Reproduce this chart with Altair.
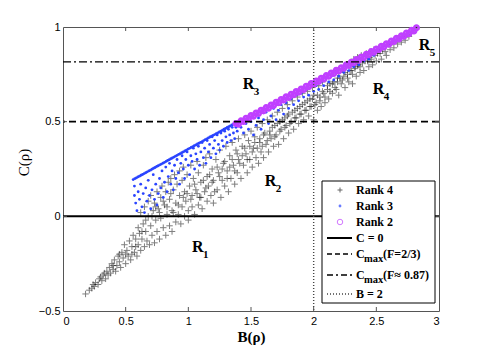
import altair as alt
import pandas as pd

# ---------------- data ----------------
RANK4 = [
    (0.18, -0.41), (0.21, -0.39), (0.23, -0.38), (0.25, -0.37), (0.26, -0.35), (0.28, -0.36), (0.29, -0.33),
    (0.31, -0.34), (0.32, -0.31), (0.34, -0.33), (0.35, -0.29), (0.36, -0.31), (0.37, -0.27), (0.38, -0.30),
    (0.39, -0.25), (0.40, -0.28), (0.41, -0.23), (0.42, -0.29), (0.43, -0.26), (0.44, -0.21), (0.45, -0.24),
    (0.46, -0.27), (0.47, -0.19), (0.48, -0.22), (0.49, -0.15), (0.50, -0.25), (0.51, -0.18), (0.52, -0.21),
    (0.53, -0.13), (0.54, -0.23), (0.55, -0.16), (0.56, -0.10), (0.57, -0.19), (0.58, -0.12), (0.59, -0.21),
    (0.60, -0.06), (0.60, -0.15), (0.61, -0.09), (0.62, -0.18), (0.62, 0.02), (0.63, -0.12), (0.64, -0.04),
    (0.65, -0.16), (0.65, 0.05), (0.66, -0.08), (0.67, -0.13), (0.68, 0.00), (0.68, 0.08), (0.69, -0.15),
    (0.70, -0.05), (0.70, 0.11), (0.71, -0.10), (0.72, 0.03), (0.73, -0.14), (0.73, 0.07), (0.74, -0.02),
    (0.75, -0.08), (0.75, 0.13), (0.76, 0.04), (0.77, -0.12), (0.78, -0.01), (0.78, 0.10), (0.79, 0.16),
    (0.80, -0.06), (0.81, 0.06), (0.82, -0.10), (0.82, 0.13), (0.83, 0.01), (0.84, 0.18), (0.85, -0.05),
    (0.85, 0.09), (0.86, 0.20), (0.87, -0.08), (0.87, 0.03), (0.88, 0.14), (0.89, 0.22), (0.90, -0.03),
    (0.90, 0.07), (0.91, 0.17), (0.92, 0.01), (0.93, 0.24), (0.93, 0.11), (0.94, -0.04), (0.95, 0.05),
    (0.95, 0.19), (0.96, 0.26), (0.97, 0.00), (0.97, 0.13), (0.98, 0.08), (0.99, 0.22), (1.00, -0.02),
    (1.00, 0.03), (1.01, 0.16), (1.02, 0.27), (1.03, 0.05), (1.03, 0.11), (1.04, 0.20), (1.05, 0.01),
    (1.06, 0.14), (1.07, 0.29), (1.08, 0.06), (1.08, 0.23), (1.09, 0.10), (1.10, 0.18), (1.11, 0.04),
    (1.12, 0.27), (1.13, 0.13), (1.14, 0.31), (1.15, 0.08), (1.15, 0.21), (1.16, 0.16), (1.17, 0.33),
    (1.18, 0.11), (1.19, 0.25), (1.20, 0.07), (1.20, 0.19), (1.22, 0.30), (1.23, 0.14), (1.24, 0.23),
    (1.25, 0.35), (1.26, 0.10), (1.27, 0.19), (1.28, 0.28), (1.29, 0.16), (1.30, 0.37), (1.31, 0.24),
    (1.32, 0.13), (1.33, 0.32), (1.34, 0.20), (1.35, 0.39), (1.36, 0.27), (1.37, 0.17), (1.38, 0.35),
    (1.39, 0.23), (1.40, 0.41), (1.40, 0.30), (1.42, 0.20), (1.43, 0.37), (1.44, 0.27), (1.45, 0.43),
    (1.46, 0.33), (1.47, 0.23), (1.48, 0.40), (1.49, 0.30), (1.50, 0.45), (1.51, 0.26), (1.52, 0.36),
    (1.53, 0.42), (1.54, 0.31), (1.55, 0.47), (1.56, 0.28), (1.57, 0.39), (1.58, 0.34), (1.59, 0.49),
    (1.60, 0.43), (1.60, 0.31), (1.62, 0.38), (1.63, 0.51), (1.64, 0.34), (1.65, 0.45), (1.66, 0.41),
    (1.67, 0.53), (1.68, 0.37), (1.69, 0.48), (1.70, 0.43), (1.71, 0.55), (1.72, 0.38), (1.73, 0.50),
    (1.74, 0.46), (1.75, 0.57), (1.76, 0.41), (1.77, 0.52), (1.78, 0.48), (1.79, 0.59), (1.80, 0.44),
    (1.80, 0.54), (1.82, 0.50), (1.83, 0.61), (1.84, 0.46), (1.85, 0.56), (1.86, 0.52), (1.87, 0.63),
    (1.88, 0.49), (1.89, 0.58), (1.90, 0.54), (1.91, 0.65), (1.92, 0.51), (1.93, 0.60), (1.94, 0.56),
    (1.95, 0.66), (1.96, 0.53), (1.97, 0.62), (1.98, 0.58), (1.99, 0.68), (2.00, 0.51), (2.00, 0.64),
    (2.02, 0.60), (2.03, 0.56), (2.04, 0.69), (2.05, 0.63), (2.06, 0.58), (2.07, 0.71), (2.08, 0.65),
    (2.09, 0.60), (2.10, 0.73), (2.11, 0.67), (2.12, 0.62), (2.13, 0.70), (2.14, 0.75), (2.15, 0.65),
    (2.16, 0.71), (2.17, 0.77), (2.18, 0.67), (2.19, 0.73), (2.20, 0.64), (2.20, 0.76), (2.22, 0.70),
    (2.23, 0.78), (2.24, 0.74), (2.25, 0.68), (2.26, 0.80), (2.27, 0.75), (2.28, 0.71), (2.29, 0.81),
    (2.30, 0.77), (2.31, 0.70), (2.32, 0.83), (2.33, 0.79), (2.34, 0.74), (2.35, 0.84), (2.36, 0.80),
    (2.37, 0.76), (2.38, 0.85), (2.39, 0.81), (2.40, 0.77), (2.42, 0.86), (2.43, 0.82), (2.44, 0.79),
    (2.45, 0.87), (2.46, 0.83), (2.47, 0.80), (2.48, 0.88), (2.49, 0.85), (2.50, 0.82), (2.52, 0.89),
    (2.53, 0.86), (2.54, 0.83), (2.56, 0.90), (2.57, 0.87), (2.58, 0.85), (2.60, 0.91), (2.61, 0.88),
    (2.63, 0.92), (2.64, 0.89), (2.66, 0.93), (2.67, 0.91), (2.69, 0.94), (2.70, 0.92), (2.72, 0.95),
    (2.73, 0.93), (2.75, 0.96), (2.76, 0.95), (2.78, 0.97), (2.80, 0.98), (2.82, 0.99),
    # denser middle of the band
    (0.24, -0.36), (0.30, -0.32), (0.33, -0.30), (0.40, -0.26), (0.45, -0.20), (0.50, -0.20),
    (0.55, -0.20), (0.58, -0.16), (0.63, -0.08), (0.66, -0.02), (0.71, 0.00), (0.74, 0.05),
    (0.77, 0.02), (0.80, 0.08), (0.83, 0.05), (0.86, 0.12), (0.88, 0.02),
    (0.92, 0.06), (0.96, 0.10), (0.99, 0.12), (1.02, 0.09), (1.05, 0.17), (1.07, 0.12), (1.10, 0.10),
    (1.12, 0.19), (1.14, 0.15), (1.17, 0.22), (1.19, 0.18), (1.21, 0.13), (1.23, 0.26), (1.25, 0.21),
    (1.27, 0.25), (1.29, 0.29), (1.31, 0.20), (1.33, 0.26), (1.35, 0.30), (1.37, 0.24), (1.39, 0.33),
    (1.41, 0.28), (1.43, 0.32), (1.45, 0.36), (1.47, 0.30), (1.49, 0.37), (1.51, 0.34), (1.53, 0.39),
    (1.55, 0.36), (1.57, 0.41), (1.59, 0.37), (1.61, 0.44), (1.63, 0.40), (1.65, 0.43), (1.67, 0.47),
    (1.69, 0.42), (1.71, 0.49), (1.73, 0.45), (1.75, 0.51), (1.77, 0.47), (1.79, 0.53), (1.81, 0.49),
    (1.83, 0.55), (1.85, 0.52), (1.87, 0.57), (1.89, 0.54), (1.91, 0.59), (1.93, 0.56), (1.95, 0.61),
    (1.97, 0.58), (1.99, 0.62), (2.01, 0.59), (2.03, 0.64), (2.05, 0.61), (2.07, 0.66), (2.09, 0.63),
    (2.11, 0.69), (2.13, 0.66), (2.15, 0.70), (2.17, 0.68), (2.19, 0.71), (2.21, 0.73), (2.23, 0.72),
    (2.25, 0.76), (2.27, 0.73), (2.29, 0.77), (2.31, 0.75), (2.33, 0.78), (2.35, 0.80), (2.37, 0.79),
    (2.41, 0.82), (2.45, 0.84), (2.51, 0.86), (2.55, 0.88),
]

RANK3 = [
    # dense upper edge
    (0.56, 0.194), (0.585, 0.203), (0.61, 0.212), (0.635, 0.221), (0.66, 0.230), (0.685, 0.240),
    (0.71, 0.249), (0.735, 0.258), (0.76, 0.267), (0.785, 0.276), (0.81, 0.285), (0.835, 0.295),
    (0.86, 0.304), (0.885, 0.313), (0.91, 0.322), (0.935, 0.331), (0.96, 0.340), (0.985, 0.350),
    (1.01, 0.359), (1.035, 0.368), (1.06, 0.377), (1.085, 0.386), (1.11, 0.395), (1.135, 0.405),
    (1.16, 0.414), (1.185, 0.423), (1.21, 0.432), (1.235, 0.441), (1.26, 0.450), (1.285, 0.460),
    (1.31, 0.469), (1.335, 0.478), (1.36, 0.487), (1.385, 0.496),
    (0.5725, 0.199), (0.5975, 0.208), (0.6225, 0.217), (0.6475, 0.226), (0.6725, 0.235),
    (0.6975, 0.244), (0.7225, 0.254), (0.7475, 0.263), (0.7725, 0.272), (0.7975, 0.281),
    (0.8225, 0.290), (0.8475, 0.299), (0.8725, 0.308), (0.8975, 0.318), (0.9225, 0.327),
    (0.9475, 0.336), (0.9725, 0.345), (0.9975, 0.355), (1.0225, 0.364), (1.0475, 0.373),
    (1.0725, 0.382), (1.0975, 0.391), (1.1225, 0.400), (1.1475, 0.409), (1.1725, 0.419),
    (1.1975, 0.428), (1.2225, 0.437), (1.2475, 0.446), (1.2725, 0.455), (1.2975, 0.464),
    (1.3225, 0.473), (1.3475, 0.483), (1.3725, 0.492),
    # scattered, left part
    (0.57, 0.16), (0.57, 0.11), (0.58, 0.07), (0.59, 0.03), (0.60, 0.13), (0.61, 0.09), (0.62, 0.17),
    (0.63, 0.05), (0.64, 0.12), (0.65, 0.02), (0.66, 0.15), (0.67, 0.08), (0.68, 0.19), (0.69, 0.11),
    (0.70, 0.04), (0.71, 0.14), (0.72, 0.22), (0.73, 0.09), (0.74, 0.17), (0.75, 0.06), (0.76, 0.12),
    (0.77, 0.20), (0.78, 0.15), (0.79, 0.24), (0.80, 0.10), (0.81, 0.18), (0.82, 0.26), (0.83, 0.13),
    (0.84, 0.21), (0.85, 0.28), (0.86, 0.17), (0.87, 0.24), (0.88, 0.14), (0.89, 0.27), (0.90, 0.20),
    (0.91, 0.30), (0.92, 0.23), (0.93, 0.17), (0.94, 0.28), (0.95, 0.32), (0.96, 0.25), (0.97, 0.20),
    (0.98, 0.30), (0.99, 0.34), (1.00, 0.27), (1.01, 0.22), (1.02, 0.32), (1.03, 0.29), (1.04, 0.36),
    (1.05, 0.25), (1.06, 0.33), (1.07, 0.30), (1.08, 0.37), (1.09, 0.27), (1.10, 0.34), (1.11, 0.39),
    (1.12, 0.31), (1.13, 0.36), (1.14, 0.28), (1.15, 0.40), (1.16, 0.34), (1.17, 0.38), (1.18, 0.31),
    (1.19, 0.42), (1.20, 0.36), (1.21, 0.40), (1.22, 0.33), (1.23, 0.43), (1.24, 0.38), (1.25, 0.35),
    (1.26, 0.44), (1.27, 0.40), (1.28, 0.37), (1.29, 0.45), (1.30, 0.42), (1.31, 0.39), (1.32, 0.46),
    (1.33, 0.43), (1.34, 0.40), (1.35, 0.47), (1.36, 0.44), (1.37, 0.41), (1.38, 0.47), (1.39, 0.45),
    # right part, just under the rank-2 band
    (1.42, 0.47), (1.44, 0.44), (1.46, 0.49), (1.48, 0.46), (1.50, 0.50), (1.52, 0.43), (1.54, 0.48),
    (1.56, 0.52), (1.58, 0.46), (1.60, 0.51), (1.62, 0.55), (1.64, 0.49), (1.66, 0.53), (1.68, 0.57),
    (1.70, 0.51), (1.72, 0.56), (1.74, 0.59), (1.76, 0.54), (1.78, 0.60), (1.80, 0.57), (1.82, 0.62),
    (1.84, 0.59), (1.86, 0.64), (1.88, 0.61), (1.90, 0.65), (1.92, 0.63), (1.94, 0.67), (1.96, 0.64),
    (1.98, 0.69), (2.00, 0.66), (2.02, 0.69), (2.04, 0.67), (2.06, 0.71), (2.08, 0.69), (2.10, 0.73),
    (2.12, 0.71), (2.14, 0.74), (2.16, 0.72), (2.18, 0.76), (2.20, 0.74), (2.22, 0.77), (2.24, 0.76),
    (2.26, 0.79), (2.28, 0.77), (2.30, 0.80), (2.32, 0.79), (2.34, 0.82), (2.36, 0.80), (2.38, 0.83),
    (2.40, 0.82), (2.42, 0.85), (2.44, 0.83), (2.46, 0.86), (2.48, 0.85), (2.50, 0.87), (2.53, 0.88),
    (2.56, 0.90), (2.60, 0.91), (2.64, 0.93), (2.68, 0.94),
]

RANK2 = [
    (1.38, 0.490), (1.42, 0.504), (1.46, 0.518), (1.50, 0.532), (1.54, 0.546), (1.58, 0.560),
    (1.62, 0.574), (1.66, 0.588), (1.70, 0.603), (1.74, 0.617), (1.78, 0.631), (1.82, 0.645),
    (1.86, 0.659), (1.90, 0.673), (1.94, 0.687), (1.98, 0.701), (2.02, 0.715), (2.06, 0.729),
    (2.10, 0.743), (2.14, 0.757), (2.18, 0.771), (2.22, 0.785), (2.26, 0.800), (2.30, 0.814),
    (2.34, 0.828), (2.38, 0.842), (2.42, 0.856), (2.46, 0.870), (2.50, 0.884), (2.54, 0.898),
    (2.58, 0.912), (2.62, 0.926), (2.66, 0.940), (2.70, 0.954), (2.74, 0.968), (2.78, 0.982),
    (2.82, 0.996),
    (1.40, 0.487), (1.44, 0.501), (1.48, 0.515), (1.52, 0.529), (1.56, 0.543), (1.60, 0.557),
    (1.64, 0.571), (1.68, 0.586), (1.72, 0.600), (1.76, 0.614), (1.80, 0.628), (1.84, 0.642),
    (1.88, 0.656), (1.92, 0.670), (1.96, 0.684), (2.00, 0.698), (2.04, 0.712), (2.08, 0.726),
    (2.12, 0.740), (2.16, 0.754), (2.20, 0.768), (2.24, 0.782), (2.28, 0.797), (2.32, 0.811),
    (2.36, 0.825), (2.40, 0.839), (2.44, 0.853), (2.48, 0.867), (2.52, 0.881), (2.56, 0.895),
    (2.60, 0.909), (2.64, 0.923), (2.68, 0.937), (2.72, 0.951), (2.76, 0.965), (2.80, 0.979),
]

C_ZERO = 0.0
C_MAX_23 = 0.5
C_MAX_087 = 0.816
B_TWO = 2.0

X_TICKS = [0, 0.5, 1, 1.5, 2, 2.5, 3]
Y_TICKS = [-0.5, 0, 0.5, 1]
X_INNER = [0.5, 1, 1.5, 2, 2.5]
Y_INNER = [0, 0.5]

REGION_MAIN = ["R", "R", "R", "R", "R"]
REGION_SUB = ["1", "2", "3", "4", "5"]
REGION_B = [1.03, 1.61, 1.434, 2.472, 2.839]
REGION_C = [-0.187, 0.162, 0.670, 0.644, 0.877]

# ---------------- styling ----------------
W, H = 376, 284
BLUE = "#2a44ff"
MAGENTA = "#c040ff"
PLUS = "M-1,0L1,0M0,-1L0,1"
SERIF = "Liberation Serif"
SANS = "Liberation Sans"

xs = alt.Scale(domain=[0, 3], nice=False, zero=False)
ys = alt.Scale(domain=[-0.5, 1], nice=False, zero=False)

df4 = pd.DataFrame(RANK4, columns=["B", "C"])
df3 = pd.DataFrame(RANK3, columns=["B", "C"])
df2 = pd.DataFrame(RANK2, columns=["B", "C"])

x_axis = alt.Axis(
    values=X_TICKS, format="~g", ticks=False, domain=False, grid=False,
    labelFont=SANS, labelFontSize=11, labelColor="black", labelPadding=4,
    title="B(ρ)", titleFont=SERIF, titleFontSize=15, titleFontWeight="bold",
    titleColor="black", titleBaseline="middle", titleY=25,
)
y_axis = alt.Axis(
    values=Y_TICKS, format="~g", ticks=False, domain=False, grid=False,
    labelFont=SANS, labelFontSize=11, labelColor="black", labelPadding=3,
    title="C(ρ)", titleFont=SERIF, titleFontSize=15, titleFontWeight="normal",
    titleColor="black", titleAngle=270, titleBaseline="middle", titleAlign="center",
    titleX=-40, titleY=135,
)

X = lambda: alt.X("B:Q", scale=xs, axis=x_axis)
Y = lambda: alt.Y("C:Q", scale=ys, axis=y_axis)

black = alt.Chart(df4).mark_point(
    shape=PLUS, filled=False, stroke="black", strokeWidth=1, opacity=0.5, size=42
).encode(x=X(), y=Y())

blue = alt.Chart(df3).mark_circle(color=BLUE, size=8, opacity=1).encode(x=X(), y=Y())

magenta = alt.Chart(df2).mark_point(
    shape="circle", filled=False, stroke=MAGENTA, strokeWidth=2.6, size=20, opacity=1
).encode(x=X(), y=Y())


def hline(val, dash, width):
    kw = dict(color="black", strokeWidth=width)
    if dash:
        kw["strokeDash"] = dash
    return alt.Chart(pd.DataFrame({"C": [val]})).mark_rule(**kw).encode(y=Y())


l0 = hline(C_ZERO, None, 2)
l1 = hline(C_MAX_23, [7, 4], 1.6)
l2 = hline(C_MAX_087, [8, 3, 2, 3], 1.4)
lv = alt.Chart(pd.DataFrame({"B": [B_TWO]})).mark_rule(
    color="#444", strokeWidth=1.4, strokeDash=[1, 2]
).encode(x=X())

# inward tick marks (MATLAB style) on all four sides
tx = pd.DataFrame({"B": X_INNER})
ty = pd.DataFrame({"C": Y_INNER})
tick_style = dict(color="#555", strokeWidth=1)
t_bottom = alt.Chart(tx).mark_rule(**tick_style).encode(x=X(), y=alt.value(H), y2=alt.value(H - 4))
t_top = alt.Chart(tx).mark_rule(**tick_style).encode(x=X(), y=alt.value(0), y2=alt.value(4))
t_left = alt.Chart(ty).mark_rule(**tick_style).encode(y=Y(), x=alt.value(0), x2=alt.value(4))
t_right = alt.Chart(ty).mark_rule(**tick_style).encode(y=Y(), x=alt.value(W), x2=alt.value(W - 4))

# region labels
dreg = pd.DataFrame({"main": REGION_MAIN, "sub": REGION_SUB, "B": REGION_B, "C": REGION_C})
reg_main = alt.Chart(dreg).mark_text(
    font=SERIF, fontSize=16, fontWeight="bold", align="left", baseline="alphabetic", color="black"
).encode(x=X(), y=Y(), text="main:N")
reg_sub = alt.Chart(dreg).mark_text(
    font=SERIF, fontSize=11, fontWeight="bold", align="left", baseline="alphabetic",
    color="black", dx=11, dy=6
).encode(x=X(), y=Y(), text="sub:N")

# legend box
one = pd.DataFrame({"k": [0]})
LX0, LX1, LY0, LY1 = 259, 372, 154, 276
SYM_X, TXT_X, LN_X0, LN_X1 = 277, 293, 264, 289
leg = [
    alt.Chart(one).mark_rect(fill="white", stroke="black", strokeWidth=1).encode(
        x=alt.value(LX0), x2=alt.value(LX1), y=alt.value(LY0), y2=alt.value(LY1)),
    alt.Chart(one).mark_point(shape=PLUS, filled=False, stroke="black", strokeWidth=1,
                              opacity=0.6, size=25).encode(x=alt.value(SYM_X), y=alt.value(163)),
    alt.Chart(one).mark_circle(color=BLUE, size=8).encode(x=alt.value(SYM_X), y=alt.value(179)),
    alt.Chart(one).mark_point(shape="circle", filled=False, stroke=MAGENTA, strokeWidth=1,
                              size=30).encode(x=alt.value(SYM_X), y=alt.value(195)),
    alt.Chart(one).mark_rule(color="black", strokeWidth=2).encode(
        x=alt.value(LN_X0), x2=alt.value(LN_X1), y=alt.value(211)),
    alt.Chart(one).mark_rule(color="black", strokeWidth=1.6, strokeDash=[5, 3]).encode(
        x=alt.value(LN_X0), x2=alt.value(LN_X1), y=alt.value(227)),
    alt.Chart(one).mark_rule(color="black", strokeWidth=1.4, strokeDash=[6, 3, 2, 3]).encode(
        x=alt.value(LN_X0), x2=alt.value(LN_X1), y=alt.value(248)),
    alt.Chart(one).mark_rule(color="#444", strokeWidth=1.4, strokeDash=[1, 2]).encode(
        x=alt.value(LN_X0), x2=alt.value(LN_X1), y=alt.value(267)),
]


def ltext(txt, x, y, size=12, dy=0):
    return alt.Chart(one).mark_text(
        text=txt, font=SERIF, fontSize=size, fontWeight="bold", align="left",
        baseline="middle", color="black", dy=dy
    ).encode(x=alt.value(x), y=alt.value(y))


leg += [
    ltext("Rank 4", TXT_X, 163),
    ltext("Rank 3", TXT_X, 179),
    ltext("Rank 2", TXT_X, 195),
    ltext("C = 0", TXT_X, 211),
    ltext("C", TXT_X, 227),
    ltext("max", TXT_X + 8, 227, size=10.5, dy=5),
    ltext("(F=2/3)", TXT_X + 27, 227),
    ltext("C", TXT_X, 248),
    ltext("max", TXT_X + 8, 248, size=10.5, dy=5),
    ltext("(F≈ 0.87)", TXT_X + 27, 248),
    ltext("B = 2", TXT_X, 267),
]

chart = alt.layer(
    black, blue, magenta, l0, l1, l2, lv,
    t_bottom, t_top, t_left, t_right,
    reg_main, reg_sub, *leg
).properties(
    width=W, height=H,
    padding={"left": 55, "top": 19, "right": 30, "bottom": 40},
    autosize=alt.AutoSizeParams(type="none"),
).configure_view(stroke="#555", strokeWidth=1)

chart.save("out.html", embed_options={"renderer": "svg", "actions": False})
